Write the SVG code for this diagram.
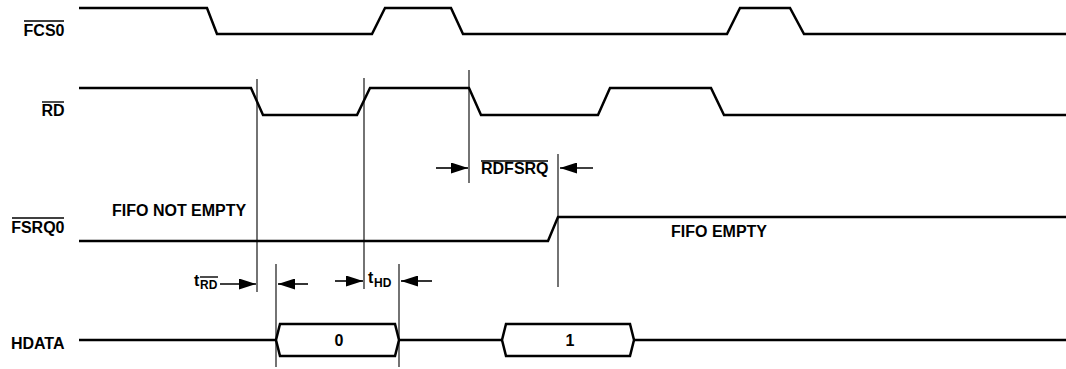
<svg xmlns="http://www.w3.org/2000/svg" width="1066" height="369" viewBox="0 0 1066 369">
<style>
.sig{fill:none;stroke:#000;stroke-width:2.5;stroke-linejoin:miter}
.ref{fill:none;stroke:#000;stroke-width:1.1}
.ov{stroke:#000;stroke-width:1.4}
.lbl{font-family:"Liberation Sans",Arial,sans-serif;font-weight:bold;font-size:16px;fill:#000}
.sub{font-family:"Liberation Sans",Arial,sans-serif;font-weight:bold;font-size:12px;fill:#000}
.arr{stroke:#000;stroke-width:1.6;fill:none;marker-end:url(#ah)}
</style>
<defs>
<marker id="ah" markerWidth="17" markerHeight="11" refX="17" refY="5.5" orient="auto" markerUnits="userSpaceOnUse">
<path d="M0,0 L17,5.5 L0,11 Z" fill="#000"/>
</marker>
</defs>
<rect width="1066" height="369" fill="#fff"/>
<g id="FCS0">
<text class="lbl" x="64.5" y="36" text-anchor="end">FCS0</text>
<line class="ov" x1="24" y1="21" x2="64" y2="21"/>
<polyline class="sig" points="79,8 207,8 217,34 372,34 385,8 451,8 463,34 727,34 740,8 790,8 804,34 1066,34"/>
</g>
<g id="RD">
<text class="lbl" x="64.5" y="116" text-anchor="end">RD</text>
<line class="ov" x1="42" y1="102" x2="64" y2="102"/>
<polyline class="sig" points="79,88 251,88 263,115 357,115 370,88 469,88 481,115 598,115 610,88 711,88 724,115 1066,115"/>
</g>
<g id="FSRQ0">
<text class="lbl" x="64.5" y="233" text-anchor="end">FSRQ0</text>
<line class="ov" x1="12" y1="218" x2="64" y2="218"/>
<polyline class="sig" points="79,241 548,241 558,217 1066,217"/>
<text class="lbl" x="112" y="216">FIFO NOT EMPTY</text>
<text class="lbl" x="671" y="237">FIFO EMPTY</text>
</g>
<g id="HDATA">
<text class="lbl" x="64.5" y="349" text-anchor="end">HDATA</text>
<polyline class="sig" points="79,340 276,340"/>
<path class="sig" d="M276,340 L280,324 L395,324 L399,340 L395,356 L280,356 Z"/>
<polyline class="sig" points="399,340 502,340"/>
<path class="sig" d="M502,340 L506,324 L630,324 L634,340 L630,356 L506,356 Z"/>
<polyline class="sig" points="634,340 1066,340"/>
<text class="lbl" x="339" y="346" text-anchor="middle">0</text>
<text class="lbl" x="570" y="346" text-anchor="middle">1</text>
</g>
<g id="connectors">
<line class="ref" x1="257" y1="79" x2="257" y2="292"/>
<line class="ref" x1="364" y1="78" x2="364" y2="289"/>
<line class="ref" x1="469" y1="70" x2="469" y2="183"/>
<line class="ref" x1="558" y1="154" x2="558" y2="287"/>
<line class="ref" x1="276" y1="264" x2="276" y2="367"/>
<line class="ref" x1="399" y1="264" x2="399" y2="367"/>
<line class="arr" x1="436" y1="168" x2="468" y2="168"/>
<line class="arr" x1="593" y1="168" x2="560" y2="168"/>
<line class="arr" x1="220" y1="284" x2="256" y2="284"/>
<line class="arr" x1="308" y1="284" x2="278" y2="284"/>
<line class="arr" x1="335" y1="281" x2="363" y2="281"/>
<line class="arr" x1="432" y1="281" x2="401" y2="281"/>
</g>
<g id="RDFSRQ">
<text class="lbl" x="481" y="174">RDFSRQ</text>
<line class="ov" x1="481" y1="161" x2="548" y2="161"/>
</g>
<g id="tRD">
<text class="lbl" x="194" y="286">t</text>
<text class="sub" x="200" y="289">RD</text>
<line class="ov" x1="200" y1="277" x2="218" y2="277"/>
</g>
<g id="tHD">
<text class="lbl" x="368" y="283">t</text>
<text class="sub" x="374" y="287">HD</text>
</g>
</svg>
